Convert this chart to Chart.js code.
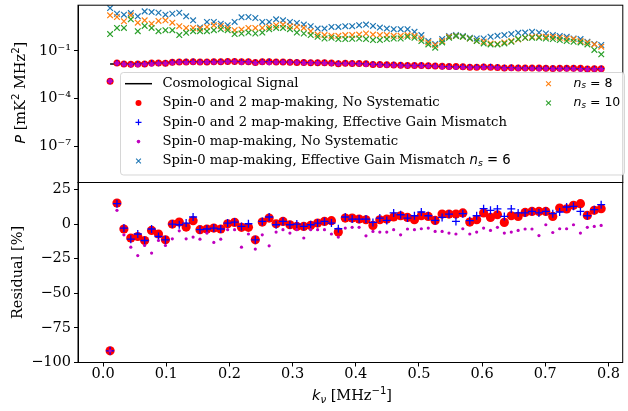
<!DOCTYPE html>
<html><head><meta charset="utf-8">
<script src="https://cdn.jsdelivr.net/npm/chart.js@4/dist/chart.umd.min.js"></script>
<style>
html,body{margin:0;padding:0;background:#fff;}
#wrap{position:relative;width:628px;height:411px;overflow:hidden;background:#fff;}
canvas{position:absolute;left:0;top:0;}
</style></head><body>
<div id="wrap">
<canvas id="topc" width="628" height="411"></canvas>
<canvas id="botc" width="628" height="411"></canvas>
</div>
<script>
// ---------------- DATA ----------------
const kNu = [0.0110,0.0219,0.0329,0.0438,0.0548,0.0657,0.0767,0.0876,0.0986,0.1095,
 0.1205,0.1314,0.1424,0.1533,0.1643,0.1752,0.1862,0.1971,0.2081,0.2190,
 0.2300,0.2409,0.2519,0.2628,0.2738,0.2847,0.2957,0.3066,0.3176,0.3285,
 0.3395,0.3504,0.3614,0.3723,0.3833,0.3942,0.4052,0.4161,0.4271,0.4380,
 0.4490,0.4599,0.4709,0.4818,0.4928,0.5037,0.5147,0.5256,0.5366,0.5475,
 0.5585,0.5694,0.5804,0.5913,0.6023,0.6132,0.6242,0.6351,0.6461,0.6570,
 0.6680,0.6789,0.6899,0.7008,0.7118,0.7227,0.7337,0.7446,0.7556,0.7665,
 0.7775,0.7884];

// Cosmological signal power [mK^2 MHz^2]
const signalP = [0.0150,0.0152,0.0155,0.0160,0.0165,0.0172,0.0180,0.0186,0.0192,0.0197,
 0.0201,0.0204,0.0206,0.0208,0.0211,0.0214,0.0216,0.0217,0.0216,0.0214,
 0.0212,0.0210,0.0207,0.0204,0.0202,0.0200,0.0197,0.0194,0.0190,0.0185,
 0.0180,0.0175,0.0170,0.0166,0.0162,0.0158,0.0154,0.0150,0.0142,0.0136,
 0.0130,0.0125,0.0121,0.0118,0.0116,0.0114,0.0112,0.0110,0.0100,0.0098,
 0.0097,0.0095,0.0094,0.0093,0.0092,0.0091,0.0086,0.0084,0.0082,0.0080,
 0.0079,0.0078,0.0077,0.0076,0.0075,0.0074,0.0073,0.0072,0.0071,0.0070,
 0.0069,0.0068];

// Residuals [%]
const resSpin02 = [-91.6,15.2,-3.6,-10.1,-9.0,-11.9,-4.6,-7.2,-11.4,0.0,
 1.4,-2.2,2.4,-4.1,-3.6,-2.9,-3.6,0.2,1.2,-2.4,
 -2.4,-11.4,1.4,4.3,0.2,1.9,-0.5,-1.7,-1.7,-1.0,
 0.7,1.9,2.4,-5.8,4.3,4.3,3.6,3.1,-1.0,3.1,
 3.6,5.1,6.0,4.8,3.1,6.0,5.5,2.6,7.2,7.2,
 7.2,8.0,1.4,3.1,8.0,4.8,6.7,1.2,6.0,5.5,
 8.4,9.1,9.1,9.1,5.5,11.6,10.9,13.5,14.7,6.2,
 9.9,11.1];
const resSpin02Gain = [-91.6,14.7,-2.9,-10.9,-7.2,-11.9,-3.6,-9.0,-11.4,0.0,
 -0.5,0.7,5.1,-4.1,-3.6,-2.9,-3.6,0.7,1.4,-1.7,
 0.2,-11.4,1.9,5.1,-0.5,1.9,-0.5,0.0,-1.7,-0.5,
 0.7,1.9,0.7,-3.4,5.1,3.6,3.6,3.6,1.2,4.3,
 2.6,8.0,6.7,4.3,6.0,8.7,6.0,2.6,4.8,7.2,
 1.9,7.5,2.4,6.0,11.1,9.9,10.9,5.5,10.9,8.0,
 8.0,9.1,8.0,9.1,7.5,8.7,12.3,12.8,9.1,6.0,
 10.4,14.0];
const resSpin0 = [-91.6,9.9,-7.8,-16.7,-22.8,-15.5,-21.0,-11.9,-15.5,-10.7,
 -4.9,-10.7,-9.4,-10.9,-6.5,-13.3,-10.9,-4.1,-4.1,-16.7,
 -7.2,-18.1,-7.8,-15.7,-5.8,-4.1,-6.5,-4.1,-10.1,-4.1,
 -4.1,-4.1,-7.2,-9.4,-2.9,-2.4,-2.4,-8.5,-5.3,-5.8,
 -5.8,-4.1,-7.8,-3.6,-4.1,-3.4,-2.9,-5.3,-5.3,-6.5,
 -7.2,-3.4,-7.2,-5.8,-2.9,-4.6,-2.4,-6.5,-5.8,-4.6,
 -3.6,-3.6,-8.3,-0.5,-6.1,-3.4,-3.4,-0.5,-6.5,-2.4,
 -1.7,-1.0];

// Spin-0 map-making with effective gain mismatch, power [mK^2 MHz^2]
const gainNs6 = [48.9,21.6,18.8,23.9,14.9,30.5,27.6,25.0,18.8,21.6,
 25.0,14.9,8.41,2.92,6.60,6.60,5.18,4.12,6.60,12.9,
 13.5,11.7,6.60,6.60,9.70,8.41,6.60,5.72,4.49,3.57,
 2.53,2.53,3.23,3.23,3.57,3.57,4.12,4.49,3.73,2.92,
 2.53,2.32,2.32,2.32,1.58,0.986,0.418,0.272,0.556,0.855,
 0.986,0.855,0.670,0.605,0.605,0.773,0.891,0.986,1.14,1.37,
 1.43,1.58,1.43,1.24,0.986,0.855,0.773,0.605,0.556,0.378,
 0.272,0.236];
const gainNs8 = [17.2,13.5,7.30,17.2,5.97,8.41,5.18,7.62,8.41,5.97,
 3.57,2.80,2.80,2.53,3.23,4.12,3.73,2.80,2.01,2.19,
 2.80,2.80,2.80,3.23,4.12,4.49,3.57,3.23,2.80,1.75,
 1.07,0.986,0.891,0.891,0.986,0.986,1.07,1.24,1.07,0.986,
 0.986,0.891,0.891,0.986,0.891,0.605,0.342,0.236,0.418,0.773,
 0.891,0.773,0.605,0.436,0.378,0.296,0.272,0.342,0.418,0.525,
 0.670,0.773,0.773,0.773,0.773,0.670,0.605,0.556,0.418,0.342,
 0.257,0.185];
const gainNs10 = [1.14,2.80,2.80,9.70,1.75,3.73,2.80,1.75,2.01,2.01,
 0.986,1.37,1.75,1.75,1.75,2.01,2.32,2.01,1.14,1.24,
 1.43,1.24,1.43,2.32,2.80,2.80,2.32,1.43,1.24,0.986,
 0.773,0.605,0.670,0.556,0.556,0.580,0.605,0.556,0.482,0.482,
 0.556,0.605,0.605,0.773,0.670,0.418,0.257,0.160,0.342,0.670,
 0.855,0.773,0.605,0.418,0.296,0.257,0.257,0.296,0.378,0.556,
 0.670,0.670,0.670,0.605,0.556,0.482,0.418,0.378,0.342,0.257,
 0.115,0.0615];

const xTicks = [0.0,0.1,0.2,0.3,0.4,0.5,0.6,0.7,0.8];
const xTickLabels = ['0.0','0.1','0.2','0.3','0.4','0.5','0.6','0.7','0.8'];
const pTicks = [1e-7,1e-4,1e-1];
const pTickLabels = ['10\u207B\u2077','10\u207B\u2074','10\u207B\u00B9'];
const resTicks = [-100,-75,-50,-25,0,25];
const resTickLabels = ['\u2212100','\u221275','\u221250','\u221225','0','25'];

// ---------------- HELPERS ----------------
const SERIF = '"DejaVu Serif", serif';
const SANS = '"DejaVu Sans", sans-serif';
const FS = 14.5;
const LFS = 13.2;
const NFS = 12.5;
const XMIN = -0.0398, XMAX = 0.8225;

const pts = (xs, ys) => xs.map((x, i) => ({x: x, y: ys[i]}));
// measured power of the map-making pipelines, from signal and residual
const fromRes = (res) => signalP.map((s, i) => s * (1 + res[i] / 100));

function drawRich(ctx, segs, x, y, align) {
  let w = 0;
  segs.forEach(s => { ctx.font = s.f; s.w = ctx.measureText(s.t).width; w += s.w; });
  let cx = align === 'center' ? x - w / 2 : x;
  segs.forEach(s => { ctx.font = s.f; ctx.fillText(s.t, cx, y + (s.dy || 0)); cx += s.w; });
  return w;
}
function marker(ctx, type, x, y, r, color, lw) {
  ctx.save();
  ctx.beginPath();
  if (type === 'circle') {
    ctx.fillStyle = color; ctx.arc(x, y, r, 0, Math.PI * 2); ctx.fill();
  } else if (type === 'plus') {
    ctx.strokeStyle = color; ctx.lineWidth = lw;
    ctx.moveTo(x - r, y); ctx.lineTo(x + r, y); ctx.moveTo(x, y - r); ctx.lineTo(x, y + r); ctx.stroke();
  } else if (type === 'x') {
    ctx.strokeStyle = color; ctx.lineWidth = lw;
    ctx.moveTo(x - r, y - r); ctx.lineTo(x + r, y + r); ctx.moveTo(x + r, y - r); ctx.lineTo(x - r, y + r); ctx.stroke();
  }
  ctx.restore();
}
function noPad(s) { s.paddingTop = 0; s.paddingBottom = 0; s.paddingLeft = 0; s.paddingRight = 0; }

const framePlugin = {
  id: 'frame',
  afterDatasetsDraw(chart) {
    const a = chart.chartArea, ctx = chart.ctx;
    ctx.save();
    ctx.strokeStyle = '#000'; ctx.lineWidth = 1;
    ctx.strokeRect(a.left, a.top, a.right - a.left, a.bottom - a.top);
    ctx.restore();
  }
};

const nsSegs = (v, fs) => [
  {t: 'n', f: `italic ${fs}px ${SANS}`},
  {t: 's', f: `italic ${fs * 0.7}px ${SANS}`, dy: 2.5},
  {t: ' = ' + v, f: `${fs}px ${SANS}`}
];

const legendPlugin = {
  id: 'customLegend',
  afterDraw(chart) {
    const ctx = chart.ctx;
    ctx.save();
    ctx.beginPath();
    ctx.roundRect(120.5, 72.5, 504, 102.5, 3);
    ctx.fillStyle = 'rgba(255,255,255,0.8)'; ctx.fill();
    ctx.strokeStyle = 'rgba(204,204,204,0.8)'; ctx.lineWidth = 1; ctx.stroke();
    const rows = [83.7, 103, 122.3, 141.6, 161];
    const mx = 138.5, tx = 162.5;
    ctx.fillStyle = '#000'; ctx.textBaseline = 'middle'; ctx.textAlign = 'left';
    ctx.beginPath(); ctx.strokeStyle = '#000'; ctx.lineWidth = 1.5;
    ctx.moveTo(125, rows[0]); ctx.lineTo(152, rows[0]); ctx.stroke();
    marker(ctx, 'circle', mx, rows[1], 3, '#ff0000');
    marker(ctx, 'plus', mx, rows[2], 3, '#0000ff', 1.2);
    marker(ctx, 'circle', mx, rows[3], 1.8, '#bf00bf');
    marker(ctx, 'x', mx, rows[4], 2.4, '#1f77b4', 1.1);
    const f = `${LFS}px ${SERIF}`;
    const labels = ['Cosmological Signal', 'Spin-0 and 2 map-making, No Systematic',
      'Spin-0 and 2 map-making, Effective Gain Mismatch', 'Spin-0 map-making, No Systematic'];
    labels.forEach((t, i) => { ctx.font = f; ctx.fillText(t, tx, rows[i]); });
    drawRich(ctx, [{t: 'Spin-0 map-making, Effective Gain Mismatch ', f: f}].concat(nsSegs('6', LFS)), tx, rows[4], 'left');
    marker(ctx, 'x', 548.5, rows[0], 2.4, '#ff7f0e', 1.1);
    marker(ctx, 'x', 548.5, rows[1], 2.4, '#2ca02c', 1.1);
    drawRich(ctx, nsSegs('8', NFS), 573.5, rows[0], 'left');
    drawRich(ctx, nsSegs('10', NFS), 573.5, rows[1], 'left');
    // y title top
    ctx.textBaseline = 'alphabetic';
    ctx.translate(24.5, 92.7); ctx.rotate(-Math.PI / 2);
    drawRich(ctx, [
      {t: 'P', f: `italic ${FS}px ${SANS}`},
      {t: ' [mK', f: `${FS}px ${SERIF}`},
      {t: '2', f: `${FS * 0.7}px ${SANS}`, dy: -6},
      {t: ' MHz', f: `${FS}px ${SERIF}`},
      {t: '2', f: `${FS * 0.7}px ${SANS}`, dy: -6},
      {t: ']', f: `${FS}px ${SERIF}`}
    ], 0, 0, 'center');
    ctx.restore();
  }
};

const botTitles = {
  id: 'botTitles',
  afterDraw(chart) {
    const ctx = chart.ctx;
    ctx.save();
    ctx.fillStyle = '#000'; ctx.textBaseline = 'alphabetic';
    drawRich(ctx, [
      {t: 'k', f: `italic ${FS}px ${SANS}`},
      {t: '\u03BD', f: `italic ${FS * 0.7}px ${SANS}`, dy: 3},
      {t: ' [MHz', f: `${FS}px ${SERIF}`},
      {t: '\u22121', f: `${FS * 0.7}px ${SANS}`, dy: -6},
      {t: ']', f: `${FS}px ${SERIF}`}
    ], 352, 400, 'center');
    ctx.translate(21.5, 272.5); ctx.rotate(-Math.PI / 2);
    ctx.font = `${FS}px ${SERIF}`; ctx.textAlign = 'center';
    ctx.fillText('Residual [%]', 0, 0);
    ctx.restore();
  }
};

Chart.defaults.font.family = SERIF;
Chart.defaults.color = '#000';

const tickGrid = {display: true, drawOnChartArea: false, drawTicks: true, tickLength: 4, color: '#000', lineWidth: 1};

// ---------------- TOP PANEL ----------------
new Chart(document.getElementById('topc'), {
  type: 'scatter',
  data: {datasets: [
    {label: 'Cosmological Signal', type: 'line', data: pts(kNu, signalP), borderColor: '#000', borderWidth: 1.5,
     pointRadius: 0, showLine: true, fill: false, tension: 0, order: 10},
    {label: 'Spin-0 and 2 map-making, No Systematic', data: pts(kNu, fromRes(resSpin02)), pointStyle: 'circle',
     backgroundColor: '#ff0000', borderWidth: 0, pointRadius: 3.5, order: 9},
    {label: 'Spin-0 and 2 map-making, Effective Gain Mismatch', data: pts(kNu, fromRes(resSpin02Gain)), pointStyle: 'cross',
     borderColor: '#0000ff', borderWidth: 1.2, pointRadius: 3, order: 8},
    {label: 'Spin-0 map-making, No Systematic', data: pts(kNu, fromRes(resSpin0)), pointStyle: 'circle',
     backgroundColor: '#bf00bf', borderWidth: 0, pointRadius: 2.3, order: 7},
    {label: 'n_s = 6', data: pts(kNu, gainNs6), pointStyle: 'crossRot', borderColor: '#1f77b4', borderWidth: 1.2, pointRadius: 4, order: 6},
    {label: 'n_s = 8', data: pts(kNu, gainNs8), pointStyle: 'crossRot', borderColor: '#ff7f0e', borderWidth: 1.2, pointRadius: 4, order: 5},
    {label: 'n_s = 10', data: pts(kNu, gainNs10), pointStyle: 'crossRot', borderColor: '#2ca02c', borderWidth: 1.2, pointRadius: 4, order: 4}
  ]},
  options: {
    responsive: false, animation: false, events: [],
    layout: {padding: {left: 0, right: 2, top: 3, bottom: 228.5}},
    plugins: {legend: {display: false}, tooltip: {enabled: false}},
    scales: {
      x: {type: 'linear', min: XMIN, max: XMAX, display: false},
      y: {type: 'logarithmic', min: 5.44e-10, max: 74.5,
          afterFit(s) { s.width = 78; noPad(s); },
          afterBuildTicks(s) { s.ticks = pTicks.map(v => ({value: v})); },
          ticks: {font: {family: SERIF, size: FS}, color: '#000', padding: 3,
                  callback: (v) => { const i = pTicks.findIndex(t => Math.abs(Math.log10(t) - Math.log10(v)) < 1e-6); return i >= 0 ? pTickLabels[i] : ''; }},
          grid: tickGrid, border: {display: true, color: '#000'}}
    }
  },
  plugins: [framePlugin, legendPlugin]
});

// ---------------- BOTTOM PANEL ----------------
new Chart(document.getElementById('botc'), {
  type: 'scatter',
  data: {datasets: [
    {label: 'Spin-0 and 2 map-making, No Systematic', data: pts(kNu, resSpin02), pointStyle: 'circle',
     backgroundColor: '#ff0000', borderWidth: 0, pointRadius: 4.6, order: 3},
    {label: 'Spin-0 and 2 map-making, Effective Gain Mismatch', data: pts(kNu, resSpin02Gain), pointStyle: 'cross',
     borderColor: '#0000ff', borderWidth: 1.3, pointRadius: 4, order: 2},
    {label: 'Spin-0 map-making, No Systematic', data: pts(kNu, resSpin0), pointStyle: 'circle',
     backgroundColor: '#bf00bf', borderWidth: 0, pointRadius: 1.6, order: 1}
  ]},
  options: {
    responsive: false, animation: false, events: [],
    layout: {padding: {left: 0, right: 2, top: 182.5, bottom: 0}},
    plugins: {legend: {display: false}, tooltip: {enabled: false}},
    scales: {
      x: {type: 'linear', min: XMIN, max: XMAX,
          afterFit(s) { s.height = 48.5; noPad(s); },
          afterBuildTicks(s) { s.ticks = xTicks.map(v => ({value: v})); },
          ticks: {font: {family: SERIF, size: FS}, color: '#000', padding: -1, maxRotation: 0,
                  callback: (v) => { const i = xTicks.findIndex(t => Math.abs(t - v) < 1e-9); return i >= 0 ? xTickLabels[i] : ''; }},
          grid: tickGrid, border: {display: true, color: '#000'}},
      y: {type: 'linear', min: -100, max: 30,
          afterFit(s) { s.width = 78; noPad(s); },
          afterBuildTicks(s) { s.ticks = resTicks.map(v => ({value: v})); },
          ticks: {font: {family: SERIF, size: FS}, color: '#000', padding: 3,
                  callback: (v) => { const i = resTicks.indexOf(v); return i >= 0 ? resTickLabels[i] : ''; }},
          grid: tickGrid, border: {display: true, color: '#000'}}
    }
  },
  plugins: [framePlugin, botTitles]
});
</script>
</body></html>
